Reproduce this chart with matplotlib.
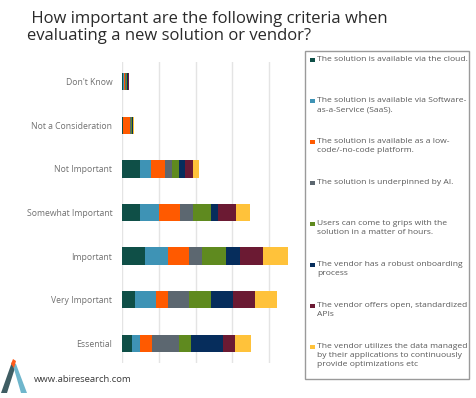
import numpy as np
import matplotlib
matplotlib.use("Agg")
from matplotlib import pyplot as plt
from matplotlib.patches import Rectangle, Polygon

plt.rcParams['font.family'] = ['Open Sans', 'DejaVu Sans']

categories = ["Don't Know", "Not a Consideration", "Not Important",
              "Somewhat Important", "Important", "Very Important", "Essential"]

criteria = [
    "The solution is available via the cloud.",
    "The solution is available via Software-\nas-a-Service (SaaS).",
    "The solution is available as a low-\ncode/-no-code platform.",
    "The solution is underpinned by AI.",
    "Users can come to grips with the\nsolution in a matter of hours.",
    "The vendor has a robust onboarding\nprocess",
    "The vendor offers open, standardized\nAPIs",
    "The vendor utilizes the data managed\nby their applications to continuously\nprovide optimizations etc",
]

colors = ["#0f4f47", "#3e93b5", "#ff5a00", "#5c6770",
          "#5f8a1f", "#062d5c", "#6b1a33", "#ffc23a"]

# one list per criterion, values in category order (Don't Know ... Essential)
cloud      = [0.4, 0.2, 5.0, 5.0, 6.2, 3.5, 2.6]
saas       = [0.2, 0.1, 2.8, 5.1, 6.4, 5.8, 2.4]
lowcode    = [0.2, 1.9, 3.8, 5.8, 5.6, 3.1, 3.1]
ai         = [0.3, 0.3, 2.1, 3.4, 3.6, 5.7, 7.3]
usability  = [0.3, 0.2, 1.7, 4.8, 6.5, 6.0, 3.5]
onboarding = [0.2, 0.2, 1.7, 2.1, 3.8, 6.2, 8.5]
apis       = [0.2, 0.2, 2.2, 4.9, 6.3, 5.9, 3.3]
data_opt   = [0.2, 0.1, 1.7, 3.7, 6.7, 5.9, 4.5]

series = [cloud, saas, lowcode, ai, usability, onboarding, apis, data_opt]

fig = plt.figure(figsize=(4.76, 3.98), dpi=100)
ax = fig.add_axes([122/476, 1 - 363/398, 182/476, 301/398])

y = np.arange(len(categories))
left = np.zeros(len(categories))
for vals, c in zip(series, colors):
    ax.barh(y, vals, left=left, height=0.4, color=c, zorder=3)
    left += np.array(vals)

ax.set_xlim(0, 49.5)
ax.set_ylim(6.45, -0.45)
ax.set_xticks(np.arange(0, 50, 10))
ax.set_xticklabels([])
ax.grid(axis='x', color='#e4e4e4', linewidth=1, zorder=0)
ax.set_yticks(y)
ax.set_yticklabels(categories, fontsize=6.2, color='#707070')
ax.tick_params(axis='both', length=0, pad=7)
for s in ax.spines.values():
    s.set_visible(False)

fig.text(27/476, 1 - 11/398, " How important are the following criteria when\nevaluating a new solution or vendor?",
         fontsize=12, color='#2a2a2a', ha='left', va='top', linespacing=1.05)

# legend box drawn by hand so wrapped labels sit like the original
W, H = 476, 398
fig.patches.append(Rectangle((305/W, 1 - 379/H), 164/W, 328/H, transform=fig.transFigure,
                             facecolor='white', edgecolor='#9a9a9a', linewidth=1, zorder=5))
for i, (lab, c) in enumerate(zip(criteria, colors)):
    yc = 60 + i * 41.0
    fig.patches.append(Rectangle((310/W, 1 - (yc + 2.4)/H), 4.8/W, 4.8/H, transform=fig.transFigure,
                                 facecolor=c, edgecolor='none', zorder=6))
    fig.text(317/W, 1 - (yc - 4.0)/H, lab, fontsize=6.1, color='#5a5a5a', ha='left', va='top',
             linespacing=1.45, zorder=6)

# logo
fig.patches.append(Polygon([(1/W, 1 - 393/H), (7/W, 1 - 393/H), (15/W, 1 - 368/H), (12/W, 1 - 362/H)],
                           closed=True, transform=fig.transFigure, facecolor='#3f5d63', edgecolor='none'))
fig.patches.append(Polygon([(12/W, 1 - 362/H), (16/W, 1 - 364/H), (27/W, 1 - 393/H), (21/W, 1 - 393/H)],
                           closed=True, transform=fig.transFigure, facecolor='#6fb6cc', edgecolor='none'))
fig.patches.append(Polygon([(11/W, 1 - 364/H), (13/W, 1 - 359/H), (16/W, 1 - 361/H), (14/W, 1 - 368/H)],
                           closed=True, transform=fig.transFigure, facecolor='#ff5a1a', edgecolor='none'))
fig.text(34/W, 1 - 380/H, "www.abiresearch.com", fontsize=6.8, color='#3a3a3a', ha='left', va='center')

fig.savefig("out.png", dpi=100)
